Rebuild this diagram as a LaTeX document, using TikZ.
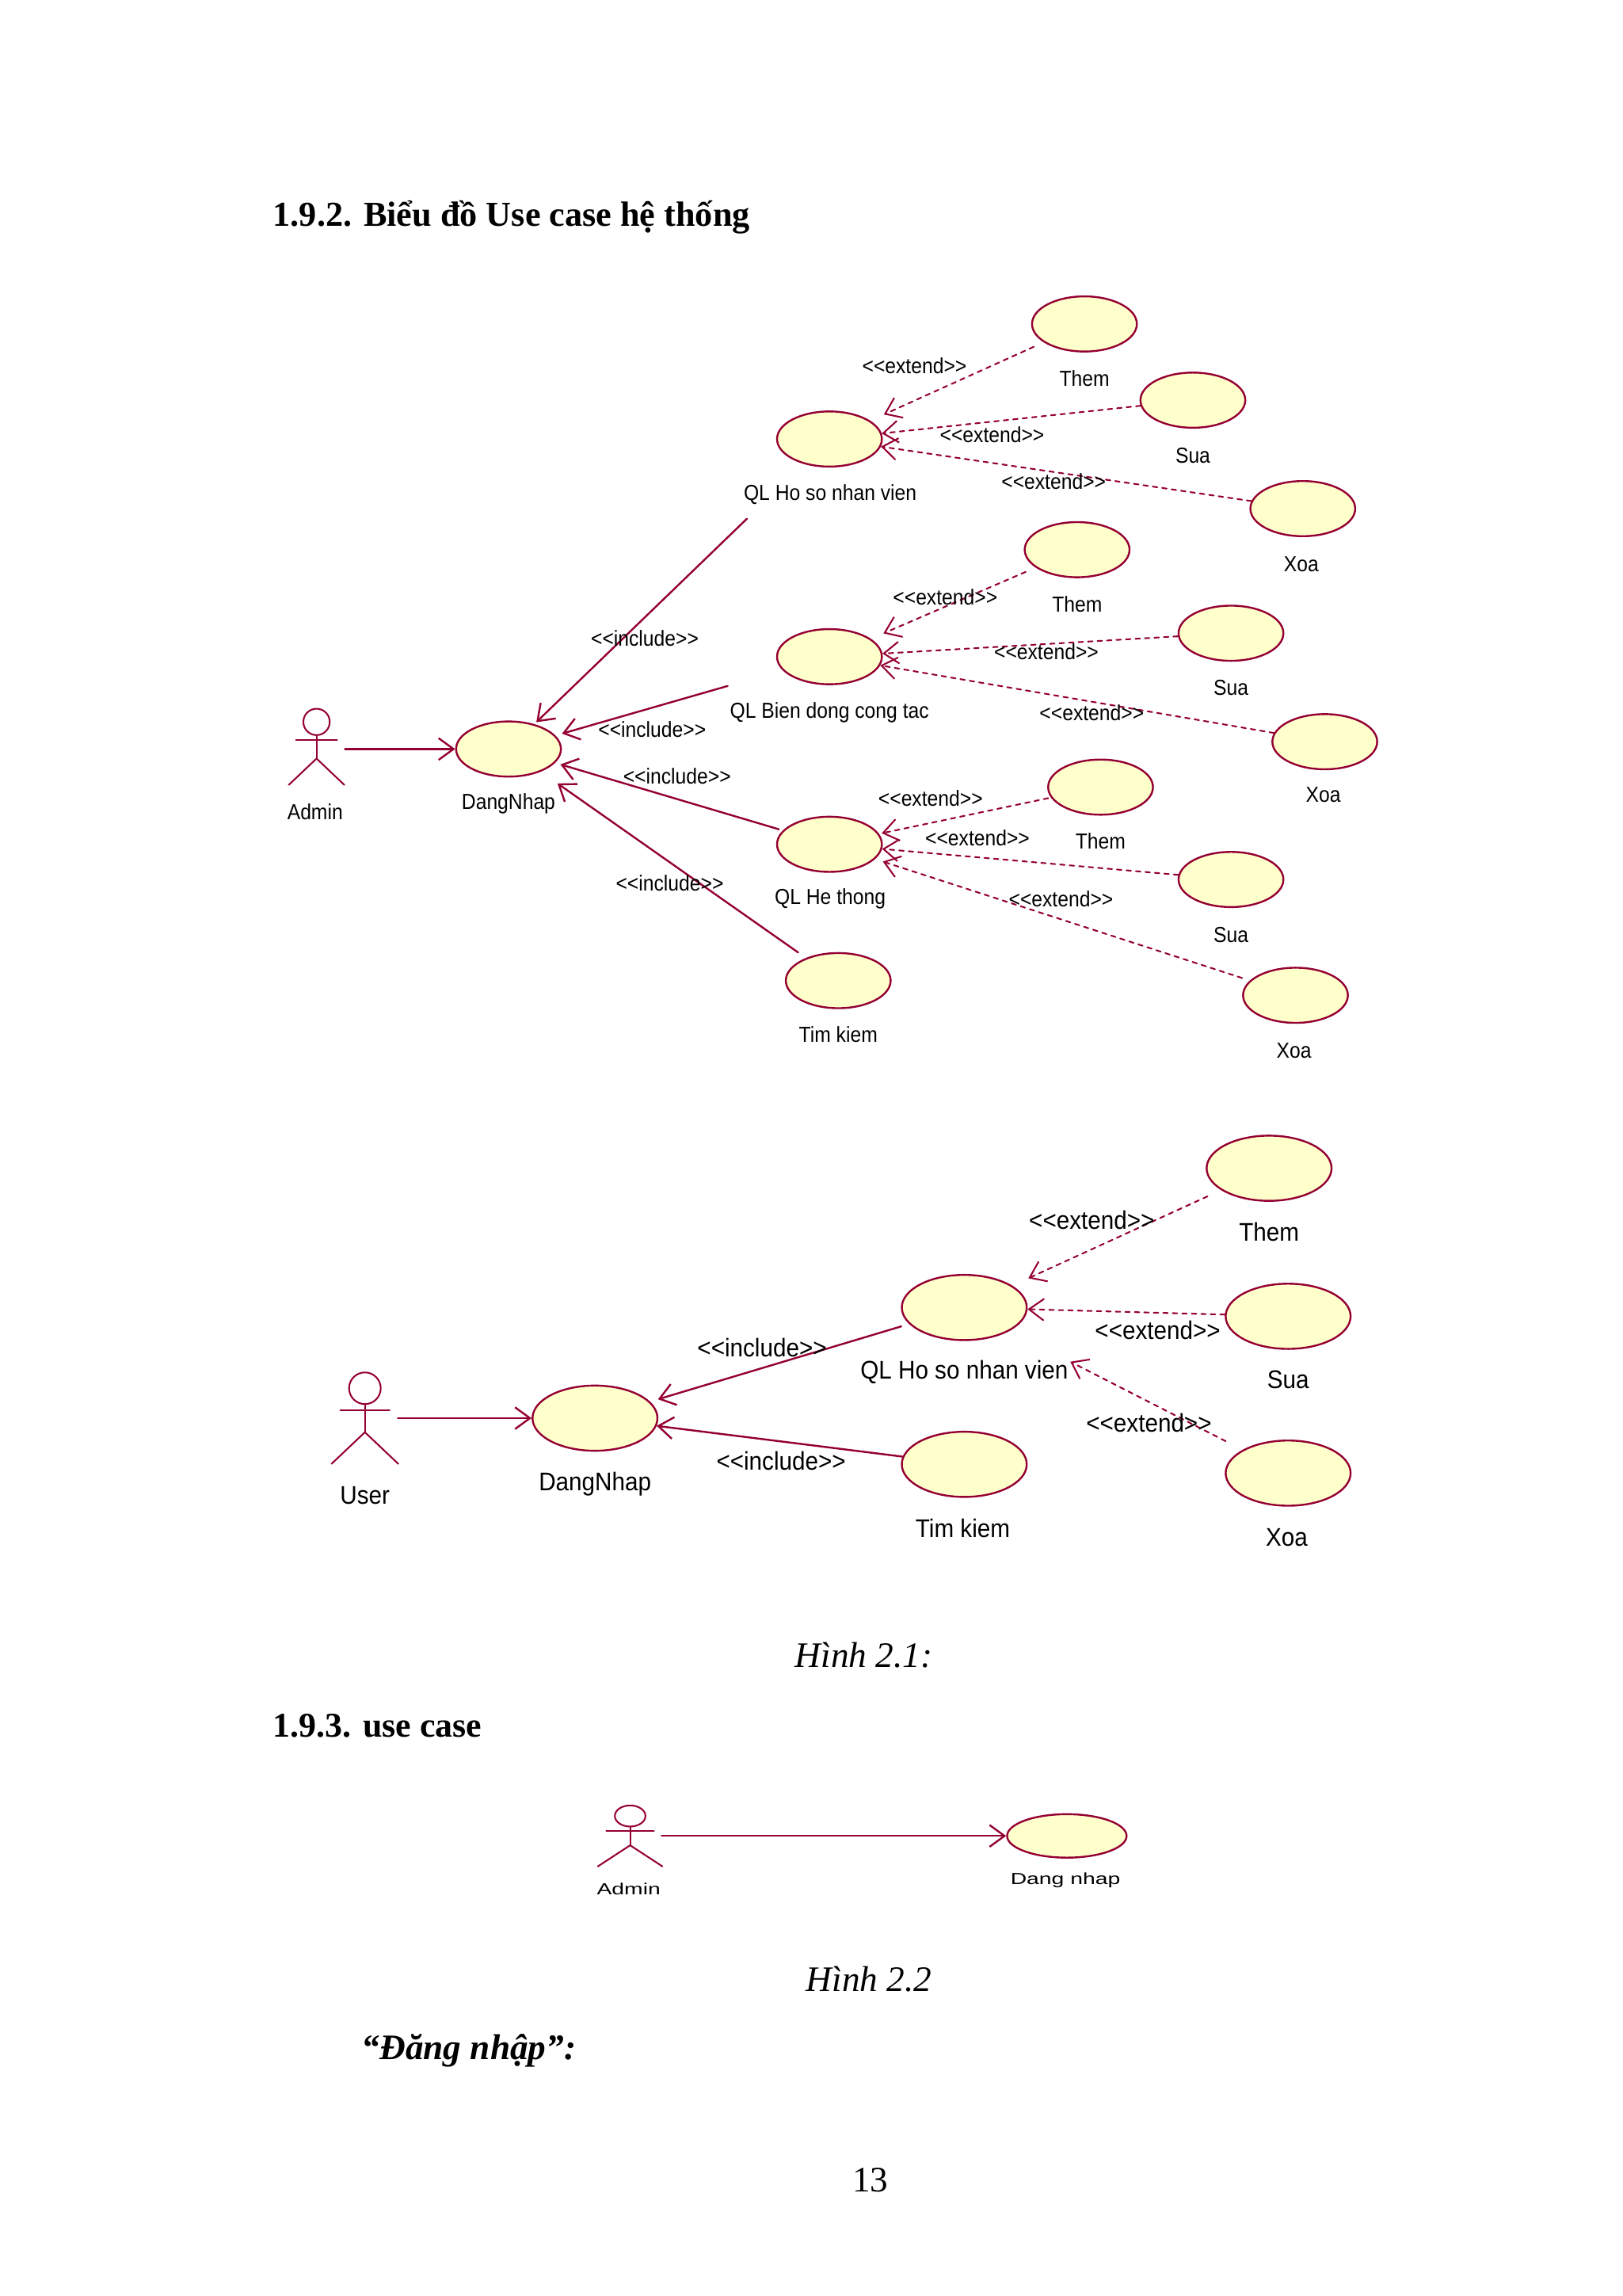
\documentclass[tikz,border=0pt]{standalone}
\usepackage{fontspec}
\setmainfont{Liberation Serif}
\newfontfamily\umlfonta[FakeStretch=0.9]{Liberation Sans}
\newfontfamily\umlfontb[FakeStretch=0.92]{Liberation Sans}
\newfontfamily\umlfontc[FakeStretch=1.4]{Liberation Sans}
\usetikzlibrary{arrows.meta}
\usetikzlibrary{shapes.geometric}
\definecolor{roseline}{RGB}{148,0,50}
\definecolor{rosefill}{RGB}{255,255,204}
\tikzset{
  ucasea/.style={ellipse,draw=roseline,fill=rosefill,line width=.7pt,inner sep=0pt,minimum width=38.6pt,minimum height=20.3pt},
  ucaseb/.style={ellipse,draw=roseline,fill=rosefill,line width=.7pt,inner sep=0pt,minimum width=46pt,minimum height=24pt},
  ucasec/.style={ellipse,draw=roseline,fill=rosefill,line width=.7pt,inner sep=0pt,minimum width=44pt,minimum height=16pt},
  actbox/.style={rectangle,inner sep=0pt,minimum height=20pt,minimum width=#1},
  txta/.style={inner sep=0pt,font=\umlfonta\fontsize{8}{9}\selectfont},
  txtb/.style={inner sep=0pt,font=\umlfontb\fontsize{9.4}{10}\selectfont},
  txtc/.style={inner sep=0pt,font=\umlfontc\fontsize{5.9}{7}\selectfont},
  assoc/.style={draw=roseline,line width=.7pt,-{Straight Barb[length=5.5pt,width=8pt]}},
  depend/.style={draw=roseline,line width=.6pt,dash pattern=on 1.7pt off 1.8pt,-{Straight Barb[length=5.5pt,width=8pt]}},
  stickman/.pic={
    \draw[roseline,line width=.6pt] (0,-17) circle (9);
    \draw[roseline,line width=.6pt] (0,-8)-- (0,8);
    \draw[roseline,line width=.6pt] (-14,-4.5)-- (14,-4.5);
    \draw[roseline,line width=.6pt] (-19,26)-- (0,8)-- (19,26);
  }
}
\begin{document}
\begin{tikzpicture}[line cap=round,line join=round,x=0.018970cm,y=-0.018970cm]
\useasboundingbox (0,0) rectangle (1107,1566.4);
% page texts
\node[anchor=west,inner sep=0pt,font=\bfseries\fontsize{12.9}{15}\selectfont] (headb) at (186,148.5) {1.9.2. Biểu đồ Use case hệ thống};
\node[anchor=west,inner sep=0pt,font=\bfseries\fontsize{12.8}{15}\selectfont] (headc) at (186,1177.5) {1.9.3. use case};
\node[inner sep=0pt,font=\itshape\fontsize{13.2}{15}\selectfont] (capa) at (589.5,1129) {Hình 2.1:};
\node[inner sep=0pt,font=\itshape\fontsize{13.2}{15}\selectfont] (capb) at (593,1350) {Hình 2.2};
\node[inner sep=0pt,font=\bfseries\itshape\fontsize{13.2}{15}\selectfont] (login) at (320,1399) {“Đăng nhập”:};
\node[inner sep=0pt,font=\fontsize{13.2}{15}\selectfont] (pageno) at (594,1487.5) {13};
% first diagram
\node[ucasea] (dang) at (347,511) {};
\node[ucasea] (qlhs) at (566,299.5) {};
\node[ucasea] (qlbd) at (566,448) {};
\node[ucasea] (qlht) at (566,576) {};
\node[ucasea] (tim) at (572,669) {};
\node[ucasea] (thema) at (740,221) {};
\node[ucasea] (suaa) at (814,273) {};
\node[ucasea] (xoaa) at (889,347) {};
\node[ucasea] (themb) at (735,375) {};
\node[ucasea] (suab) at (840,432) {};
\node[ucasea] (xoab) at (904,506) {};
\node[ucasea] (themc) at (751,537) {};
\node[ucasea] (suac) at (840,600) {};
\node[ucasea] (xoac) at (884,679) {};
\pic at (216,509.5) {stickman};
\node[actbox=20.5pt] (admin) at (216,511) {};
\draw[assoc] (admin)-- (dang);
\draw[assoc,shorten <=29pt,shorten >=1pt] (qlhs)-- (dang);
\draw[assoc,shorten <=21pt,shorten >=2.5pt] (qlbd)-- (dang);
\draw[assoc,shorten <=1.5pt,shorten >=2pt] (qlht)-- (dang);
\draw[assoc,shorten <=3.5pt,shorten >=7.5pt] (tim)-- (dang);
\draw[depend,shorten <=4pt,shorten >=5.5pt] (thema)-- (qlhs);
\draw[depend] (suaa)-- (qlhs);
\draw[depend] (xoaa)-- (qlhs);
\draw[depend,shorten <=4pt,shorten >=5pt] (themb)-- (qlbd);
\draw[depend] (suab)-- (qlbd);
\draw[depend] (xoab)-- (qlbd);
\draw[depend,shorten <=1pt,shorten >=1pt] (themc)-- (qlht);
\draw[depend] (suac)-- (qlht);
\draw[depend,shorten <=3pt,shorten >=3pt] (xoac)-- (qlht);
\node[txta] (ladmin) at (215,554) {Admin};
\node[txta] (ldang) at (347,548.5) {DangNhap};
\node[txta] (lqlhs) at (566.5,337.5) {QL Ho so nhan vien};
\node[txta] (lqlbd) at (566,486) {QL Bien dong cong tac};
\node[txta] (lqlht) at (566.5,613) {QL He thong};
\node[txta] (ltim) at (572,706) {Tim kiem};
\node[txta] (lthema) at (740,258) {Them};
\node[txta] (lsuaa) at (814,311) {Sua};
\node[txta] (lxoaa) at (888,385) {Xoa};
\node[txta] (lthemb) at (735,412) {Them};
\node[txta] (lsuab) at (840,469) {Sua};
\node[txta] (lxoab) at (903,542) {Xoa};
\node[txta] (lthemc) at (751,574) {Them};
\node[txta] (lsuac) at (840,638) {Sua};
\node[txta] (lxoac) at (883,717) {Xoa};
\node[txta] (ea) at (624,249.5) {<<extend>>};
\node[txta] (eb) at (677,296.5) {<<extend>>};
\node[txta] (ec) at (719,328.5) {<<extend>>};
\node[txta] (ed) at (645,407.5) {<<extend>>};
\node[txta] (ee) at (714,444.5) {<<extend>>};
\node[txta] (ef) at (745,486.5) {<<extend>>};
\node[txta] (eg) at (635,544.5) {<<extend>>};
\node[txta] (eh) at (667,571.5) {<<extend>>};
\node[txta] (ei) at (724,613.5) {<<extend>>};
\node[txta] (ia) at (440,435.5) {<<include>>};
\node[txta] (ib) at (445,497.5) {<<include>>};
\node[txta] (ic) at (462,529.5) {<<include>>};
\node[txta] (id) at (457,602.5) {<<include>>};
% second diagram
\node[ucaseb] (dangb) at (406,967.5) {};
\node[ucaseb] (qlhsb) at (658,892) {};
\node[ucaseb] (timb) at (658,999) {};
\node[ucaseb] (themd) at (866,797) {};
\node[ucaseb] (suad) at (879,898) {};
\node[ucaseb] (xoad) at (879,1005) {};
\pic[scale=1.2] at (249,967.5) {stickman};
\node[actbox=23.8pt] (user) at (249,967.5) {};
\draw[assoc] (user)-- (dangb);
\draw[assoc,shorten <=3pt,shorten >=3pt] (qlhsb)-- (dangb);
\draw[assoc] (timb)-- (dangb);
\draw[depend,shorten <=5.5pt,shorten >=6.5pt] (themd)-- (qlhsb);
\draw[depend] (suad)-- (qlhsb);
\draw[depend,shorten <=7pt,shorten >=25pt] (xoad)-- (qlhsb);
\node[txtb] (luser) at (249,1020.5) {User};
\node[txtb] (ldangb) at (406,1012.5) {DangNhap};
\node[txtb] (lqlhsb) at (658,936) {QL Ho so nhan vien};
\node[txtb] (ltimb) at (657,1042.5) {Tim kiem};
\node[txtb] (lthemd) at (866,840.5) {Them};
\node[txtb] (lsuad) at (879,941.5) {Sua};
\node[txtb] (lxoad) at (878,1049) {Xoa};
\node[txtb] (ej) at (745,832.5) {<<extend>>};
\node[txtb] (ek) at (790,907.5) {<<extend>>};
\node[txtb] (el) at (784,970.5) {<<extend>>};
\node[txtb] (ie) at (520,919.5) {<<include>>};
\node[txtb] (if) at (533,996.5) {<<include>>};
% third diagram
\node[ucasec] (dangc) at (728,1252.5) {};
\pic[xscale=1.16,yscale=.8] at (430,1252.5) {stickman};
\node[actbox=22.7pt] (adminc) at (430,1252.5) {};
\draw[assoc] (adminc)-- (dangc);
\node[txtc] (ladminc) at (429,1288.5) {Admin};
\node[txtc] (ldangc) at (727,1283) {Dang nhap};
\end{tikzpicture}
\end{document}
